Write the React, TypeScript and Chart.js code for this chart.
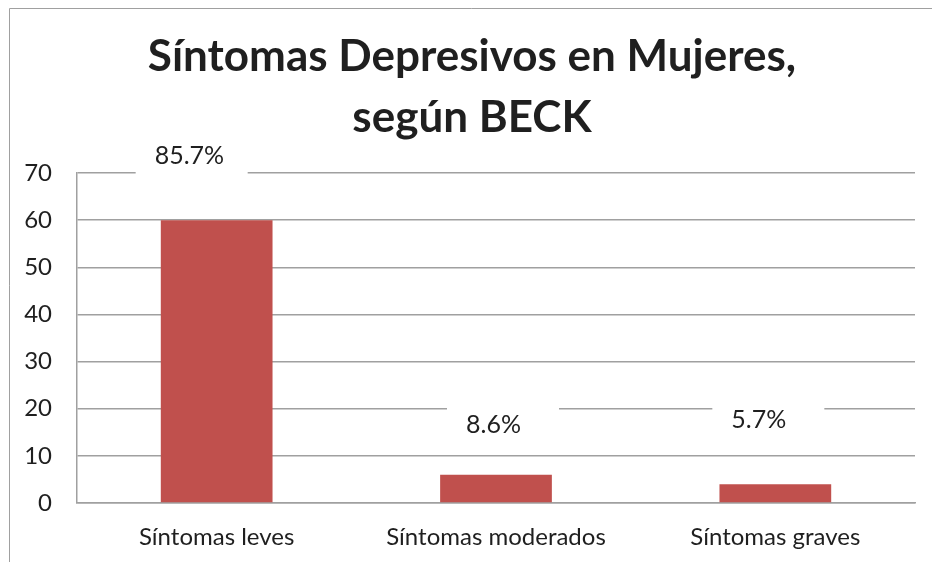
import React, { useEffect, useRef } from "react";
import { Chart, registerables } from "chart.js";

Chart.register(...registerables);

const categories = ["Síntomas leves", "Síntomas moderados", "Síntomas graves"];
const values = [60, 6, 4];
const percentLabels = ["85.7%", "8.6%", "5.7%"];
const titleLines = ["Síntomas Depresivos en Mujeres,", "según BECK"];
const yMin = 0;
const yMax = 70;
const yStep = 10;

// label box placement (pixels relative to bar center / bar top)
const labelBoxDx = [-81, -49, -63];
const labelDy = [-64, -50, -64];

const FONT = "Lato, 'Open Sans', sans-serif";

export default function App() {
  const ref = useRef<HTMLCanvasElement | null>(null);

  useEffect(() => {
    document.body.style.margin = "0";
    const canvas = ref.current!;
    const frame = {
      id: "frame",
      beforeDraw(chart: any) {
        const { ctx } = chart;
        ctx.save();
        ctx.fillStyle = "#ffffff";
        ctx.fillRect(0, 0, chart.width, chart.height);
        ctx.strokeStyle = "#a0a0a0";
        ctx.lineWidth = 1;
        ctx.beginPath();
        ctx.moveTo(9.5, chart.height + 5);
        ctx.lineTo(9.5, 8.5);
        ctx.lineTo(chart.width + 5, 8.5);
        ctx.stroke();
        ctx.restore();
      },
      afterDraw(chart: any) {
        const { ctx } = chart;
        ctx.save();
        ctx.fillStyle = "#1f1f1f";
        ctx.textAlign = "center";
        ctx.textBaseline = "middle";
        ctx.font = `bold 44px ${FONT}`;
        ctx.fillText(titleLines[0], 472, 57);
        ctx.fillText(titleLines[1], 472, 118);
        ctx.restore();
      },
    };
    const labels = {
      id: "pctLabels",
      afterDatasetsDraw(chart: any) {
        const { ctx } = chart;
        const meta = chart.getDatasetMeta(0);
        ctx.save();
        ctx.font = `25px ${FONT}`;
        ctx.textAlign = "left";
        ctx.textBaseline = "middle";
        meta.data.forEach((bar: any, i: number) => {
          const bx = bar.x + labelBoxDx[i];
          const cy = bar.y + labelDy[i];
          ctx.fillStyle = "#ffffff";
          ctx.fillRect(bx, cy - 20, 112, 40);
          ctx.fillStyle = "#1f1f1f";
          ctx.fillText(percentLabels[i], bx + 19, cy);
        });
        ctx.restore();
      },
    };
    const chart = new Chart(canvas, {
      type: "bar",
      data: {
        labels: categories,
        datasets: [
          {
            data: values,
            backgroundColor: "#c0504d",
            borderWidth: 0,
            categoryPercentage: 1,
            barPercentage: 0.4,
          },
        ],
      },
      options: {
        animation: false,
        responsive: false,
        layout: { padding: { top: 173, right: 17, left: 0, bottom: 0 } },
        plugins: {
          legend: { display: false },
          tooltip: { enabled: false },
          title: { display: false },
        },
        scales: {
          x: {
            grid: { display: false, drawTicks: false },
            border: { display: true, color: "#a0a0a0", width: 1.5 },
            ticks: {
              color: "#1f1f1f",
              font: { family: FONT, size: 24 },
              padding: 20,
              maxRotation: 0,
            },
            afterFit(scale: any) {
              scale.height = 59;
            },
          },
          y: {
            min: yMin,
            max: yMax,
            grid: { color: "#a0a0a0", lineWidth: 1.5, drawTicks: false },
            border: { display: true, color: "#a0a0a0", width: 1.5 },
            ticks: {
              stepSize: yStep,
              color: "#1f1f1f",
              font: { family: FONT, size: 24 },
              padding: 25,
            },
            afterFit(scale: any) {
              scale.width = 77;
            },
          },
        },
      },
      plugins: [frame, labels],
    });
    return () => chart.destroy();
  }, []);

  return (
    <div style={{ position: "absolute", left: 0, top: 0, width: 932, height: 562 }}>
      <canvas ref={ref} width={932} height={562} style={{ display: "block" }} />
    </div>
  );
}
